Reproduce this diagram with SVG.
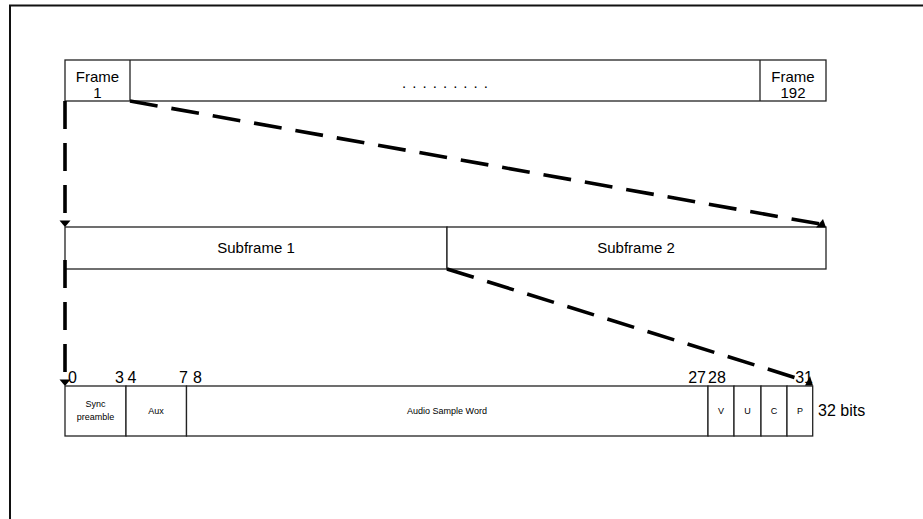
<svg xmlns="http://www.w3.org/2000/svg" width="923" height="519" viewBox="0 0 923 519">
<style>
.box{fill:#fff;stroke:#222;stroke-width:1.3}
.t{font-family:"Liberation Sans",Arial,sans-serif;fill:#000;text-anchor:middle}
.t15{font-size:15px}
.t9{font-size:9px}
.num{font-family:"Liberation Sans",Arial,sans-serif;font-size:16px;fill:#000}
.dash{fill:none;stroke:#000;stroke-width:3.6;stroke-dasharray:28 14}
.head{fill:#000}
</style>
<rect width="923" height="519" fill="#fff"/>
<path d="M10 519 V5.5 H923" fill="none" stroke="#111" stroke-width="2"/>

<g id="frames">
  <rect class="box" x="65" y="60" width="761" height="41"/>
  <line x1="130" y1="60" x2="130" y2="101" stroke="#222" stroke-width="1.3"/>
  <line x1="760" y1="60" x2="760" y2="101" stroke="#222" stroke-width="1.3"/>
</g>
<g id="frame1">
  <text class="t t15" x="97.5" y="82">Frame</text>
  <text class="t t15" x="97.5" y="98">1</text>
</g>
<g id="frame-dots">
  <text class="t t15" x="445" y="88" textLength="86" lengthAdjust="spacing">. . . . . . . . .</text>
</g>
<g id="frame192">
  <text class="t t15" x="793" y="82">Frame</text>
  <text class="t t15" x="793" y="98">192</text>
</g>

<g id="subframe1">
  <rect class="box" x="65" y="227" width="382" height="42"/>
  <text class="t t15" x="256" y="253">Subframe 1</text>
</g>
<g id="subframe2">
  <rect class="box" x="447" y="227" width="379" height="42"/>
  <text class="t t15" x="636" y="253">Subframe 2</text>
</g>

<g id="bits">
  <g id="sync">
    <rect class="box" x="65" y="386" width="61" height="50"/>
    <text class="t t9" x="95.5" y="407">Sync</text>
    <text class="t t9" x="95.5" y="420">preamble</text>
  </g>
  <g id="aux">
    <rect class="box" x="126" y="386" width="60.5" height="50"/>
    <text class="t t9" x="156" y="414">Aux</text>
  </g>
  <g id="audio">
    <rect class="box" x="186.5" y="386" width="521.5" height="50"/>
    <text class="t t9" x="447" y="414">Audio Sample Word</text>
  </g>
  <g id="v">
    <rect class="box" x="708" y="386" width="26" height="50"/>
    <text class="t t9" x="721" y="414">V</text>
  </g>
  <g id="u">
    <rect class="box" x="734" y="386" width="27" height="50"/>
    <text class="t t9" x="747.5" y="414">U</text>
  </g>
  <g id="c">
    <rect class="box" x="761" y="386" width="26" height="50"/>
    <text class="t t9" x="774" y="414">C</text>
  </g>
  <g id="p">
    <rect class="box" x="787" y="386" width="25.7" height="50"/>
    <text class="t t9" x="800" y="414">P</text>
  </g>
</g>

<g id="bit-numbers">
  <text class="num" x="68" y="383">0</text>
  <text class="num" x="124" y="383" text-anchor="end">3</text>
  <text class="num" x="127.5" y="383">4</text>
  <text class="num" x="188" y="383" text-anchor="end">7</text>
  <text class="num" x="193" y="383">8</text>
  <text class="num" x="706" y="383" text-anchor="end">27</text>
  <text class="num" x="708" y="383">28</text>
  <text class="num" x="813" y="383" text-anchor="end">31</text>
  <text class="num" x="818" y="416" font-size="17">32 bits</text>
</g>

<g id="connectors">
  <line class="dash" x1="65" y1="101" x2="65" y2="221"/>
  <polygon class="head" points="59.5,220.5 70.5,220.5 65,227"/>
  <line class="dash" x1="130" y1="101" x2="820" y2="224"/>
  <polygon class="head" points="816,227.5 823,219 826,227.5"/>
  <line class="dash" x1="65" y1="260" x2="65" y2="380"/>
  <polygon class="head" points="59.5,379.5 70.5,379.5 65,386"/>
  <line class="dash" x1="447" y1="269" x2="806" y2="381"/>
  <polygon class="head" points="805,385.5 810,376 813,385.5"/>
</g>
</svg>
